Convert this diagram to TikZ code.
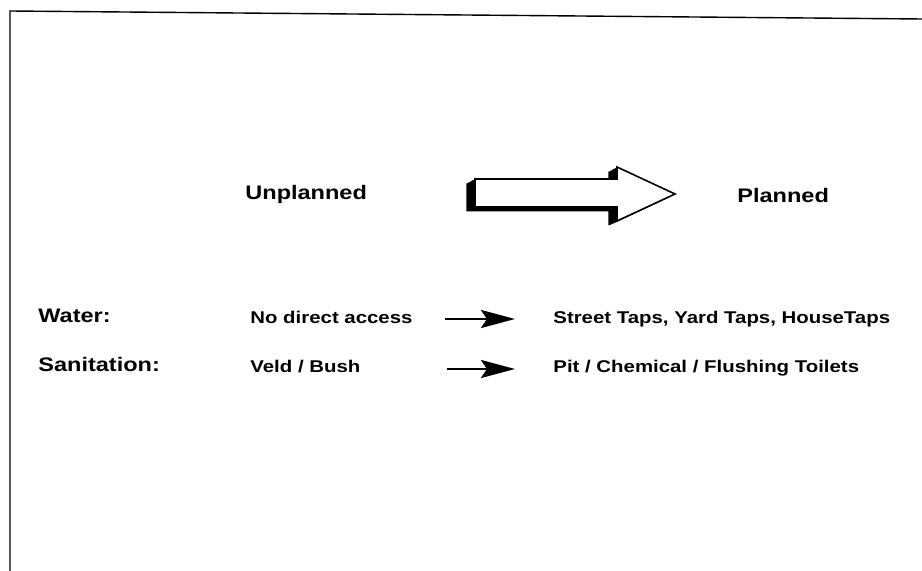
\documentclass[tikz,border=0pt]{standalone}
\usepackage{fontspec}
\setmainfont{Liberation Sans}[FakeStretch=1.2]
\usetikzlibrary{arrows.meta}

% outline of the big block arrow (pixel units)
\newcommand{\blockarrow}{(475,179) -- (617,179) -- (617,167) -- (675,194)
  -- (617,221) -- (617,207) -- (475,207) -- cycle}

\begin{document}
\begin{tikzpicture}[
  x=0.5pt, y=-0.5pt,
  headtxt/.style={font=\bfseries\fontsize{9.8}{12}\selectfont,
                  inner sep=0pt, anchor=base west},
  itemtxt/.style={font=\bfseries\fontsize{8.5}{10}\selectfont,
                  inner sep=0pt, anchor=base west},
  flowarr/.style={line width=1.3pt,
                  -{Stealth[length=17pt, width=9pt, inset=3pt]}},
  ]
  \useasboundingbox (0,0) rectangle (922,571);
  % frame
  \draw[line width=0.7pt] (10,571) -- (10,11) -- (922,19);

  % big arrow with its dark extrusion
  \foreach \t in {0,0.1,...,1}
    \fill[black, shift={(-9.5*\t,5*\t)}] \blockarrow;
  \draw[line width=0.8pt, fill=white] \blockarrow;

  \node[headtxt] (unpl) at (245,200) {Unplanned};
  \node[headtxt] (pl) at (737,203) {Planned};

  \node[headtxt] (water) at (38,323) {Water:};
  \node[itemtxt] (noacc) at (250,324) {No direct access};
  \node[itemtxt] (taps) at (553,324) {Street Taps, Yard Taps, HouseTaps};

  \node[headtxt] (sanit) at (38,372) {Sanitation:};
  \node[itemtxt] (veld) at (250,373) {Veld / Bush};
  \node[itemtxt] (toil) at (553,373) {Pit / Chemical / Flushing Toilets};

  \coordinate (wa) at (445,319);
  \coordinate (wb) at (515,319);
  \coordinate (sa) at (447,369);
  \coordinate (sb) at (515,369);
  \draw[flowarr] (wa) -- (wb);
  \draw[flowarr] (sa) -- (sb);
\end{tikzpicture}
\end{document}
